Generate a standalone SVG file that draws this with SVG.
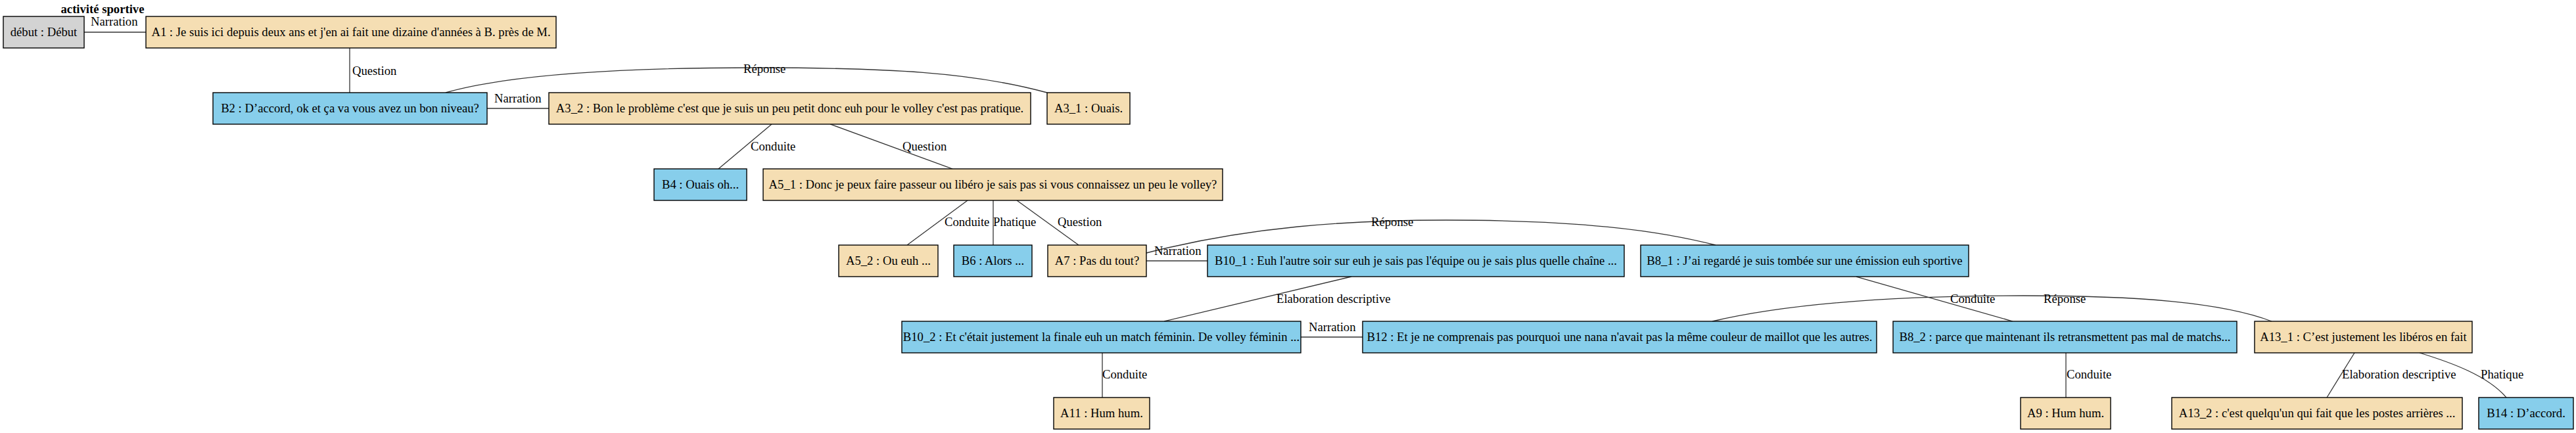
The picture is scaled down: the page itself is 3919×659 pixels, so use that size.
<svg xmlns="http://www.w3.org/2000/svg" width="3919" height="659" viewBox="0 0 3919 659">
<style>
text{font-family:"Liberation Serif","Times New Roman",serif;font-size:18.67px;fill:#000}
.t{text-anchor:middle}
.title{font-weight:bold;text-anchor:middle}
.a,.b,.g{stroke:#000;stroke-width:1.4}
.a{fill:#f5deb3}
.b{fill:#87ceeb}
.g{fill:#d3d3d3}
.e path,.e line{stroke:#333;stroke-width:1.3;fill:none}
</style>
<rect width="3919" height="659" fill="#fff"/>
<text class="title" x="156" y="20">activité sportive</text>
<g id="connectors" class="e">
<line x1="127" y1="49" x2="222" y2="49"/>
<line x1="532" y1="73" x2="532" y2="141"/>
<path d="M678,141 C780,112 960,103 1150,103 C1350,103 1480,110 1593,141"/>
<line x1="741" y1="165" x2="835" y2="165"/>
<line x1="1174" y1="189" x2="1093" y2="257"/>
<line x1="1263" y1="189" x2="1449" y2="257"/>
<line x1="1472" y1="305" x2="1380" y2="373"/>
<line x1="1511" y1="305" x2="1511" y2="373"/>
<line x1="1547" y1="305" x2="1641" y2="373"/>
<line x1="1744" y1="397" x2="1837" y2="397"/>
<path d="M1744,385 C1900,345 2050,335 2200,335 C2400,335 2520,350 2610,373"/>
<line x1="2056" y1="421" x2="1771" y2="489"/>
<line x1="1979" y1="513" x2="2073" y2="513"/>
<line x1="1677" y1="537" x2="1677" y2="605"/>
<line x1="2824" y1="421" x2="3062" y2="489"/>
<path d="M2605,489 C2750,455 2950,450 3078,450 C3250,450 3380,460 3456,489"/>
<line x1="3143" y1="537" x2="3143" y2="605"/>
<line x1="3582" y1="537" x2="3540" y2="605"/>
<path d="M3681,537 C3730,552 3785,572 3813,605"/>
<text x="138" y="39">Narration</text>
<text x="536" y="114">Question</text>
<text x="1131" y="111">Réponse</text>
<text x="752" y="156">Narration</text>
<text x="1142" y="229">Conduite</text>
<text x="1373" y="229">Question</text>
<text x="1437" y="344">Conduite</text>
<text x="1511" y="344">Phatique</text>
<text x="1609" y="344">Question</text>
<text x="1756" y="388">Narration</text>
<text x="2086" y="344">Réponse</text>
<text x="1942" y="461">Elaboration descriptive</text>
<text x="1991" y="504">Narration</text>
<text x="2967" y="461">Conduite</text>
<text x="3109" y="461">Réponse</text>
<text x="1677" y="576">Conduite</text>
<text x="3144" y="576">Conduite</text>
<text x="3563" y="576">Elaboration descriptive</text>
<text x="3774" y="576">Phatique</text>
</g>
<g id="debut"><rect class="g" x="5" y="25" width="123" height="48"/><text class="t" x="66.5" y="55">début : Début</text></g>
<g id="A1"><rect class="a" x="222" y="25" width="624" height="48"/><text class="t" x="534" y="55">A1 : Je suis ici depuis deux ans et j'en ai fait une dizaine d'années à B. près de M.</text></g>
<g id="B2"><rect class="b" x="324" y="141" width="417" height="48"/><text class="t" x="532.5" y="171">B2 : D’accord, ok et ça va vous avez un bon niveau?</text></g>
<g id="A3_2"><rect class="a" x="835" y="141" width="733" height="48"/><text class="t" x="1201.5" y="171">A3_2 : Bon le problème c'est que je suis un peu petit donc euh pour le volley c'est pas pratique.</text></g>
<g id="A3_1"><rect class="a" x="1593" y="141" width="126" height="48"/><text class="t" x="1656" y="171">A3_1 : Ouais.</text></g>
<g id="B4"><rect class="b" x="995" y="257" width="141" height="48"/><text class="t" x="1065.5" y="287">B4 : Ouais oh...</text></g>
<g id="A5_1"><rect class="a" x="1161" y="257" width="699" height="48"/><text class="t" x="1510.5" y="287">A5_1 : Donc je peux faire passeur ou libéro je sais pas si vous connaissez un peu le volley?</text></g>
<g id="A5_2"><rect class="a" x="1276" y="373" width="151" height="48"/><text class="t" x="1351.5" y="403">A5_2 : Ou euh ...</text></g>
<g id="B6"><rect class="b" x="1451" y="373" width="119" height="48"/><text class="t" x="1510.5" y="403">B6 : Alors ...</text></g>
<g id="A7"><rect class="a" x="1594" y="373" width="150" height="48"/><text class="t" x="1669" y="403">A7 : Pas du tout?</text></g>
<g id="B10_1"><rect class="b" x="1837" y="373" width="634" height="48"/><text class="t" x="2154" y="403">B10_1 : Euh l'autre soir sur euh je sais pas l'équipe ou je sais plus quelle chaîne ...</text></g>
<g id="B8_1"><rect class="b" x="2496" y="373" width="499" height="48"/><text class="t" x="2745.5" y="403">B8_1 : J’ai regardé je suis tombée sur une émission euh sportive</text></g>
<g id="B10_2"><rect class="b" x="1372" y="489" width="607" height="48"/><text class="t" x="1675.5" y="519">B10_2 : Et c'était justement la finale euh un match féminin. De volley féminin ...</text></g>
<g id="B12"><rect class="b" x="2073" y="489" width="782" height="48"/><text class="t" x="2464" y="519">B12 : Et je ne comprenais pas pourquoi une nana n'avait pas la même couleur de maillot que les autres.</text></g>
<g id="B8_2"><rect class="b" x="2880" y="489" width="523" height="48"/><text class="t" x="3141.5" y="519">B8_2 : parce que maintenant ils retransmettent pas mal de matchs...</text></g>
<g id="A13_1"><rect class="a" x="3430" y="489" width="331" height="48"/><text class="t" x="3595.5" y="519">A13_1 : C’est justement les libéros en fait</text></g>
<g id="A11"><rect class="a" x="1603" y="605" width="146" height="48"/><text class="t" x="1676" y="635">A11 : Hum hum.</text></g>
<g id="A9"><rect class="a" x="3074" y="605" width="137" height="48"/><text class="t" x="3142.5" y="635">A9 : Hum hum.</text></g>
<g id="A13_2"><rect class="a" x="3304" y="605" width="442" height="48"/><text class="t" x="3525" y="635">A13_2 : c'est quelqu'un qui fait que les postes arrières ...</text></g>
<g id="B14"><rect class="b" x="3771" y="605" width="144" height="48"/><text class="t" x="3843" y="635">B14 : D’accord.</text></g>
</svg>
